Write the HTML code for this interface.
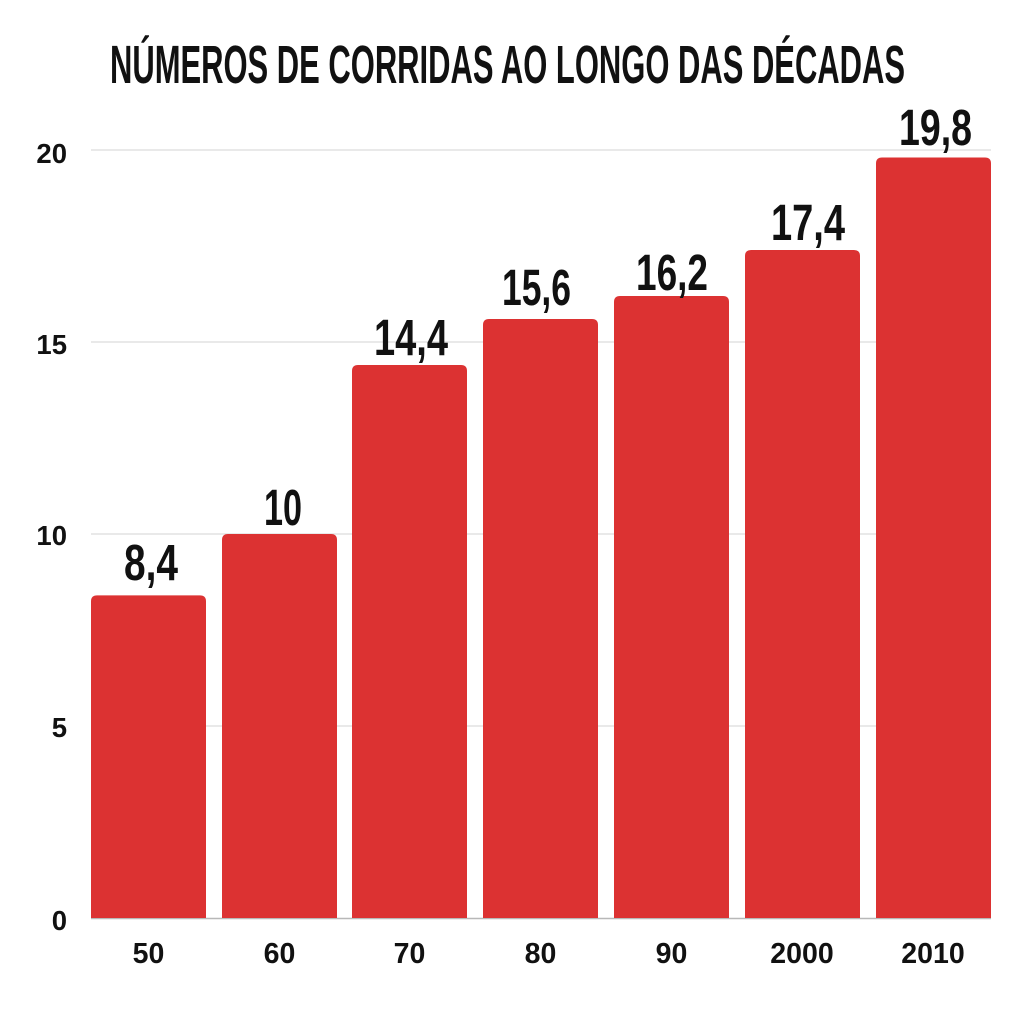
<!DOCTYPE html>
<html>
<head>
<meta charset="utf-8">
<style>
html,body{margin:0;padding:0;background:#fff;}
svg{display:block;}
</style>
</head>
<body>
<svg width="1024" height="1024" viewBox="0 0 1024 1024" xmlns="http://www.w3.org/2000/svg">
<rect width="1024" height="1024" fill="#ffffff"/>
<!-- title -->
<text x="110" y="83" font-family="Liberation Sans, sans-serif" font-weight="bold" font-size="53.5" fill="#111" textLength="795" lengthAdjust="spacingAndGlyphs">NÚMEROS DE CORRIDAS AO LONGO DAS DÉCADAS</text>

<!-- gridlines -->
<g stroke="#dcdcdc" stroke-width="1.2">
<line x1="91" y1="150" x2="991" y2="150"/>
<line x1="91" y1="342" x2="991" y2="342"/>
<line x1="91" y1="534" x2="991" y2="534"/>
<line x1="91" y1="726" x2="991" y2="726"/>
</g>
<line x1="91" y1="918.5" x2="991" y2="918.5" stroke="#b8b8b8" stroke-width="1.5"/>

<!-- y labels -->
<g font-family="Liberation Sans, sans-serif" font-weight="bold" font-size="27.5" fill="#111" text-anchor="end">
<text x="67" y="163">20</text>
<text x="67" y="354">15</text>
<text x="67" y="545">10</text>
<text x="67" y="737">5</text>
<text x="67" y="930">0</text>
</g>

<!-- bars -->
<g fill="#dc3232">
<path d="M91,918 V601.4 Q91,595.4 97,595.4 H200 Q206,595.4 206,601.4 V918 Z"/>
<path d="M222,918 V540 Q222,534 228,534 H331 Q337,534 337,540 V918 Z"/>
<path d="M352,918 V371 Q352,365 358,365 H461 Q467,365 467,371 V918 Z"/>
<path d="M483,918 V325 Q483,319 489,319 H592 Q598,319 598,325 V918 Z"/>
<path d="M614,918 V302 Q614,296 620,296 H723 Q729,296 729,302 V918 Z"/>
<path d="M745,918 V256 Q745,250 751,250 H854 Q860,250 860,256 V918 Z"/>
<path d="M876,918 V163.5 Q876,157.5 882,157.5 H985 Q991,157.5 991,163.5 V918 Z"/>
</g>

<!-- value labels -->
<g font-family="Liberation Sans, sans-serif" font-weight="bold" font-size="51" fill="#111" lengthAdjust="spacingAndGlyphs">
<text x="124" y="580" textLength="54" lengthAdjust="spacingAndGlyphs">8,4</text>
<text x="264" y="525" textLength="38" lengthAdjust="spacingAndGlyphs">10</text>
<text x="374" y="355" textLength="74" lengthAdjust="spacingAndGlyphs">14,4</text>
<text x="502" y="305" textLength="69" lengthAdjust="spacingAndGlyphs">15,6</text>
<text x="636" y="290" textLength="72" lengthAdjust="spacingAndGlyphs">16,2</text>
<text x="771" y="240" textLength="74" lengthAdjust="spacingAndGlyphs">17,4</text>
<text x="899" y="145" textLength="73" lengthAdjust="spacingAndGlyphs">19,8</text>
</g>

<!-- x labels -->
<g font-family="Liberation Sans, sans-serif" font-weight="bold" font-size="28.5" fill="#111" text-anchor="middle">
<text x="148.5" y="963">50</text>
<text x="279.5" y="963">60</text>
<text x="409.5" y="963">70</text>
<text x="540.5" y="963">80</text>
<text x="671.5" y="963">90</text>
<text x="802" y="963">2000</text>
<text x="933" y="963">2010</text>
</g>
</svg>
</body>
</html>
